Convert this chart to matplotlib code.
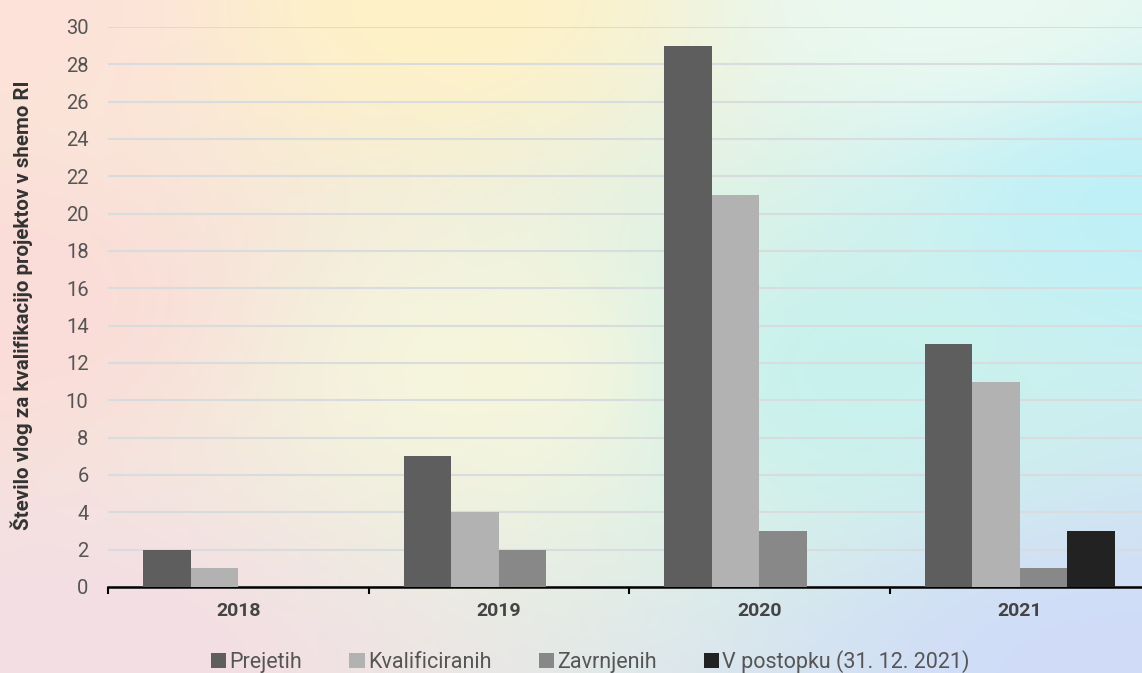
import numpy as np
import matplotlib
matplotlib.use('Agg')
import matplotlib.pyplot as plt
from matplotlib.colors import to_rgb
from matplotlib.ticker import FixedLocator

plt.rcParams['font.family'] = ['Roboto', 'DejaVu Sans']

years = ['2018', '2019', '2020', '2021']
series = ['Prejetih', 'Kvalificiranih', 'Zavrnjenih', 'V postopku (31. 12. 2021)']
prejetih = [2, 7, 29, 13]
kvalificiranih = [1, 4, 21, 11]
zavrnjenih = [0, 2, 3, 1]
v_postopku = [0, 0, 0, 3]
colors = ['#5e5e5e', '#b2b2b2', '#888888', '#222222']

fig = plt.figure(figsize=(11.42, 6.73), dpi=100)

# background gradient
bg = fig.add_axes([0, 0, 1, 1], zorder=-10)
h, w = 135, 228
yy, xx = np.mgrid[0:1:h * 1j, 0:1:w * 1j]
anchors = [
    ((0.0, 0.0), '#fde2da'),
    ((0.0, 0.45), '#fbdcd8'),
    ((0.38, 0.0), '#fff2c6'),
    ((0.45, 0.55), '#f8f6dc'),
    ((0.72, 0.55), '#c6f2ee'),
    ((1.0, 0.3), '#bef0f8'),
    ((0.97, 1.0), '#d0dcf8'),
    ((0.05, 1.0), '#f4dee4'),
    ((0.85, 0.0), '#ecfaf2'),
]
num = np.zeros((h, w, 3))
den = np.zeros((h, w))
for (ax_, ay_), c in anchors:
    d2 = (xx - ax_) ** 2 + (yy - ay_) ** 2
    wt = 1.0 / (d2 + 0.01) ** 1.5
    num += wt[..., None] * np.array(to_rgb(c))
    den += wt
bg.imshow(num / den[..., None], aspect='auto', extent=[0, 1, 0, 1], interpolation='bicubic')
bg.axis('off')

ax = fig.add_axes([108 / 1142, 86 / 673, 1042 / 1142, 560 / 673])
ax.set_facecolor('none')

x = np.arange(len(years))
bw = 0.182
for i, (vals, name) in enumerate(zip([prejetih, kvalificiranih, zavrnjenih, v_postopku], series)):
    ax.bar(x + (i - 1.5) * bw, vals, bw, color=colors[i], label=name, zorder=3)

ax.set_xlim(-0.5, 3.5)
ax.set_ylim(0, 30)
ax.set_yticks(range(0, 31, 2))
ax.yaxis.grid(True, color='#d8dcdf', linewidth=1.5, zorder=0)
ax.tick_params(axis='y', length=0, labelsize=14.5, labelcolor='#555555', pad=14)

ax.set_xticks(x)
ax.set_xticklabels(years, fontweight='bold', fontsize=14, color='#444444')
ax.xaxis.set_minor_locator(FixedLocator([-0.5, 0.5, 1.5, 2.5, 3.5]))
ax.tick_params(axis='x', which='major', length=0, pad=11)
ax.tick_params(axis='x', which='minor', length=5, width=1.5, color='black')

for s in ['top', 'right', 'left']:
    ax.spines[s].set_visible(False)
ax.spines['bottom'].set_linewidth(1.8)
ax.spines['bottom'].set_color('black')

fig.text(0.019, (673 - 305) / 673, 'Število vlog za kvalifikacijo projektov v shemo RI',
         rotation=90, ha='center', va='center', fontsize=14.8, fontweight='bold', color='#333333')

fig.legend(loc='center', bbox_to_anchor=(0.517, 0.017), ncol=4, frameon=False,
           handlelength=0.7, handleheight=0.7, handletextpad=0.15, columnspacing=2.2,
           fontsize=15.5, labelcolor='#555555')

fig.savefig('out.png', dpi=100)
